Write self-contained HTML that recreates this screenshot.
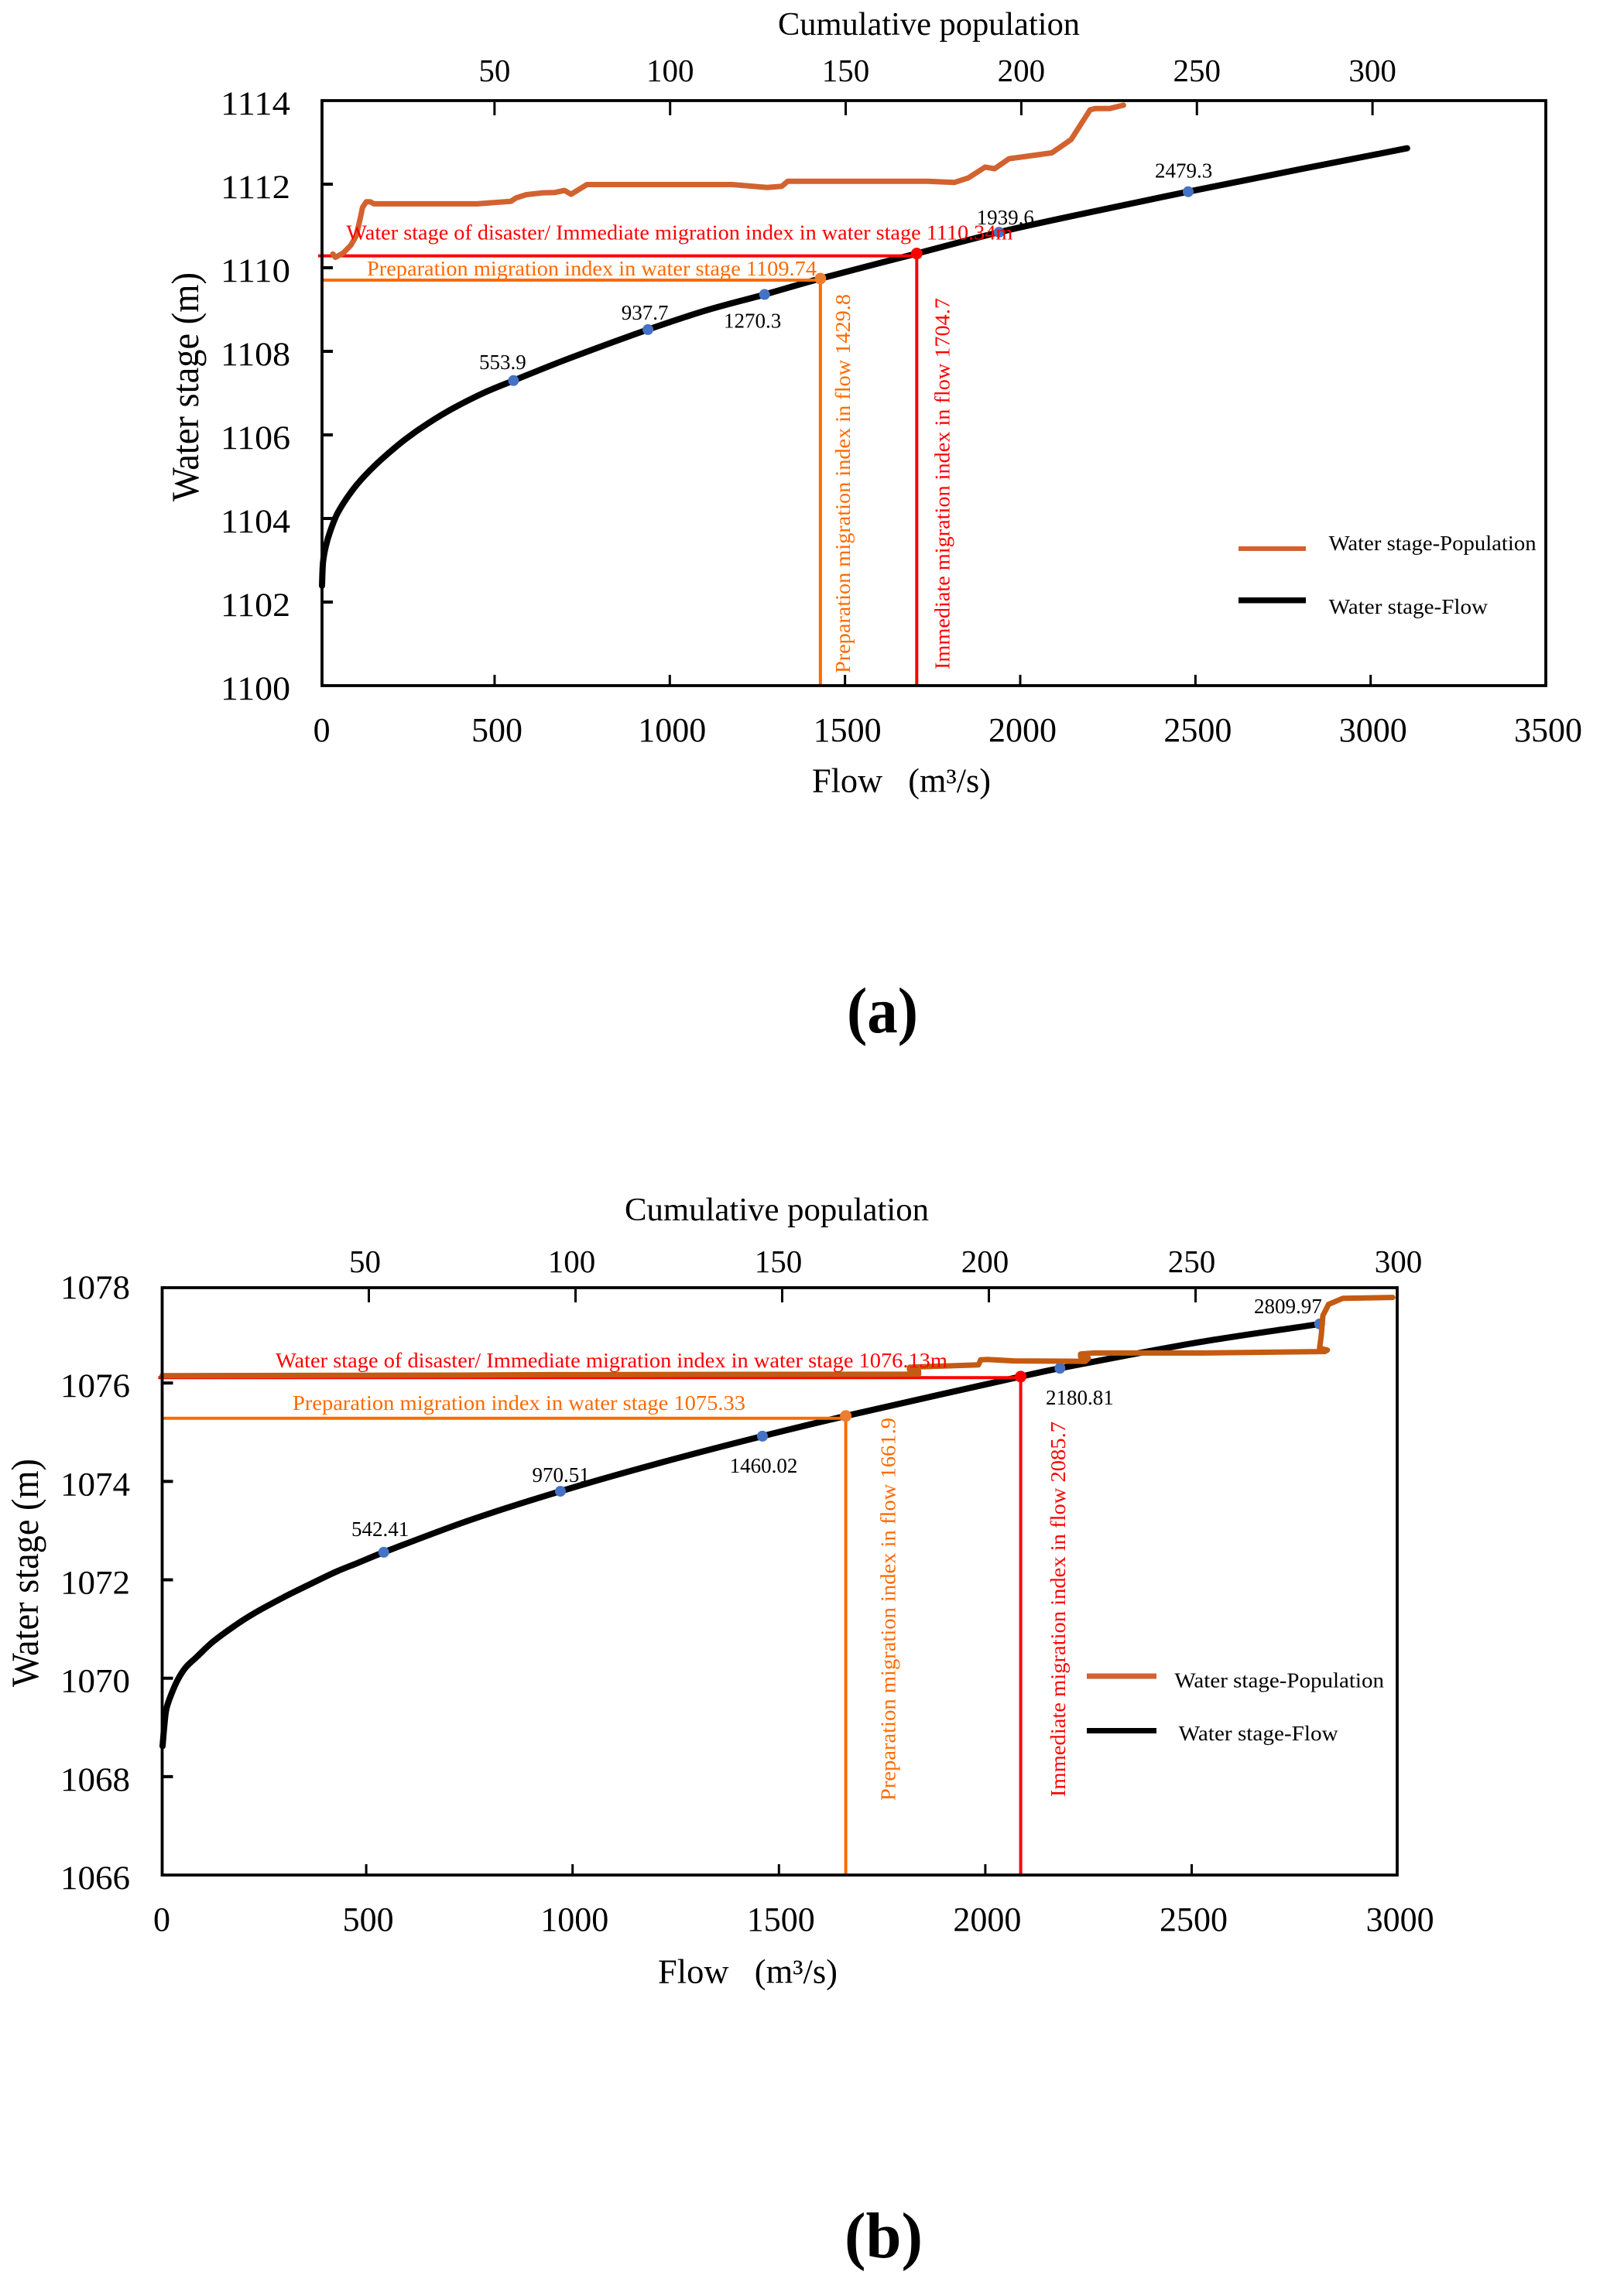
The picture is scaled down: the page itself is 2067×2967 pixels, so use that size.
<!DOCTYPE html>
<html lang="en">
<head>
<meta charset="utf-8">
<title>Water stage, flow and cumulative population</title>
<style>
html,body{margin:0;padding:0;background:#fff;}
svg{display:block;}
text{font-family:"Liberation Serif","Noto Serif CJK SC",serif;}
</style>
</head>
<body>
<svg id="figure" xmlns="http://www.w3.org/2000/svg" width="2067" height="2967" viewBox="0 0 2067 2967">
<rect x="0" y="0" width="2067" height="2967" fill="#ffffff"/>
</svg>
<script>
/* ---------- panel (a) data ---------- */
const flowTicksA = [0, 500, 1000, 1500, 2000, 2500, 3000, 3500];
const popTicksA = [50, 100, 150, 200, 250, 300];
const stageTicksA = [1100, 1102, 1104, 1106, 1108, 1110, 1112, 1114];
const flowA = [7.5, 10.4, 17.9, 31.1, 53.2, 97.4, 141.6, 185.8, 244.5, 310.8, 384.6, 472.9, 553.9, 700, 937.7, 1100, 1270.3, 1429.8, 1704.7, 1939.6, 2200, 2479.3, 2800, 3104];
const flowStageA = [1102.39, 1102.95, 1103.32, 1103.7, 1104.15, 1104.71, 1105.13, 1105.48, 1105.89, 1106.28, 1106.65, 1107.02, 1107.3, 1107.79, 1108.52, 1108.97, 1109.36, 1109.74, 1110.34, 1110.85, 1111.33, 1111.82, 1112.36, 1112.86];
const popA = [4.0, 4.7, 6.9, 9.1, 10.6, 11.7, 12.4, 13.5, 14.6, 15.7, 45.1, 54.7, 56.1, 59.1, 63.5, 67.1, 69.9, 71.8, 76.3, 117.7, 127.6, 131.8, 133.5, 173.4, 180.9, 184.9, 189.7, 192.4, 196.5, 208.7, 214.2, 219.6, 221.0, 225.1, 229.1];
const popStageA = [1110.33, 1110.25, 1110.35, 1110.54, 1110.76, 1111.16, 1111.44, 1111.58, 1111.58, 1111.53, 1111.53, 1111.59, 1111.67, 1111.75, 1111.79, 1111.80, 1111.85, 1111.76, 1111.99, 1111.99, 1111.92, 1111.95, 1112.07, 1112.07, 1112.04, 1112.15, 1112.41, 1112.37, 1112.61, 1112.75, 1113.07, 1113.78, 1113.81, 1113.81, 1113.89];
const markerFlowA = [553.9, 937.7, 1270.3, 1939.6, 2479.3];
const markerStageA = [1107.3, 1108.52, 1109.36, 1110.85, 1111.82];
const markerLabelA = ['553.9', '937.7', '1270.3', '1939.6', '2479.3'];
const prepIndexA = [1429.8, 1109.74];
const immediateIndexA = [1704.7, 1110.34];

/* ---------- panel (b) data ---------- */
const flowTicksB = [0, 500, 1000, 1500, 2000, 2500, 3000];
const popTicksB = [50, 100, 150, 200, 250, 300];
const stageTicksB = [1066, 1068, 1070, 1072, 1074, 1076, 1078];
const flowB = [6.6, 10.9, 15.9, 28.5, 44.1, 62.8, 87.8, 128.5, 178.5, 228.4, 303.5, 366.1, 428.5, 478.6, 542.41, 750, 970.51, 1200, 1460.02, 1661.9, 2085.7, 2180.81, 2511, 2809.97];
const flowStageB = [1068.62, 1069.04, 1069.38, 1069.69, 1069.98, 1070.22, 1070.42, 1070.74, 1071.05, 1071.32, 1071.66, 1071.92, 1072.17, 1072.34, 1072.56, 1073.21, 1073.8, 1074.35, 1074.92, 1075.33, 1076.13, 1076.3, 1076.82, 1077.2];
const popB = [0, 71.8, 94.5, 180.8, 183, 183, 180.8, 180.8, 183.5, 197.5, 198, 199.6, 206, 223.3, 224.1, 222.2, 222.2, 225.4, 251.8, 281.3, 281.9, 280, 280.4, 280.8, 282.2, 285.6, 297.7];
const popStageB = [1076.15, 1076.16, 1076.17, 1076.18, 1076.18, 1076.24, 1076.27, 1076.32, 1076.33, 1076.37, 1076.47, 1076.48, 1076.45, 1076.44, 1076.5, 1076.54, 1076.59, 1076.61, 1076.61, 1076.64, 1076.67, 1076.71, 1076.95, 1077.37, 1077.6, 1077.72, 1077.74];
const markerFlowB = [542.41, 970.51, 1460.02, 2180.81, 2809.97];
const markerStageB = [1072.56, 1073.8, 1074.92, 1076.3, 1077.2];
const markerLabelB = ['542.41', '970.51', '1460.02', '2180.81', '2809.97'];
const prepIndexB = [1661.9, 1075.33];
const immediateIndexB = [2085.7, 1076.13];

/* ---------- helpers ---------- */
const NS = 'http://www.w3.org/2000/svg';
const svg = document.getElementById('figure');
const BLACK = '#000000', RED = '#ff0000', ORANGE = '#ff6a00', BLUE = '#4472c4', MARK_ORANGE = '#ed7d31';

function el(tag, attrs) {
  const n = document.createElementNS(NS, tag);
  for (const k in attrs) n.setAttribute(k, attrs[k]);
  svg.appendChild(n);
  return n;
}
function txt(str, x, y, size, fill, anchor, len, rot, weight) {
  const a = {x: x, y: y, 'font-size': size, fill: fill, 'text-anchor': anchor || 'start'};
  if (len) { a.textLength = len; a.lengthAdjust = 'spacingAndGlyphs'; }
  if (rot) a.transform = 'rotate(-90 ' + x + ' ' + y + ')';
  if (weight) a['font-weight'] = weight;
  const n = el('text', a);
  n.textContent = str;
  return n;
}
function polyPath(xs, ys) {
  let d = '';
  for (let i = 0; i < xs.length; i++) d += (i ? 'L' : 'M') + xs[i].toFixed(1) + ' ' + ys[i].toFixed(1);
  return d;
}
/* chord-length parameterised spline through every data point */
function smoothPath(xs, ys) {
  const n = xs.length;
  const seg = [];
  for (let i = 0; i < n - 1; i++) seg.push(Math.hypot(xs[i + 1] - xs[i], ys[i + 1] - ys[i]) || 0.001);
  const tx = [], ty = [];
  for (let i = 0; i < n; i++) {
    const a = i ? i - 1 : 0, b = i < n - 1 ? i + 1 : n - 1;
    const len = (i ? seg[i - 1] : 0) + (i < n - 1 ? seg[i] : 0);
    tx.push((xs[b] - xs[a]) / len);
    ty.push((ys[b] - ys[a]) / len);
  }
  let d = 'M' + xs[0].toFixed(1) + ' ' + ys[0].toFixed(1);
  for (let i = 0; i < n - 1; i++) {
    const h = seg[i] / 3;
    d += 'C' + (xs[i] + tx[i] * h).toFixed(1) + ' ' + (ys[i] + ty[i] * h).toFixed(1) + ' ' + (xs[i + 1] - tx[i + 1] * h).toFixed(1) + ' ' + (ys[i + 1] - ty[i + 1] * h).toFixed(1) + ' ' + xs[i + 1].toFixed(1) + ' ' + ys[i + 1].toFixed(1);
  }
  return d;
}

/* ---------- panel (a) scales ---------- */
const xA = v => 412.6 + v * 0.4527;
const pA = v => 412 + v * 4.537;
const yA = v => 886 - (v - 1100) * 54;

/* ---------- panel (b) scales ---------- */
const xB = v => 206.5 + v * 0.5332;
const pB = v => 209.5 + v * 5.34;
const yB = v => 2423 - (v - 1066) * 63.58;

/* ---------- shared panel drawing ---------- */
function drawPanel(id, box, x, p, y, flowTicks, popTicks, stageTicks, flows, flowStages, pops, popStages, popColor, mFlow, mStage, prep, imm) {
  const flowCurve = el('path', {d: smoothPath(flows.map(x), flowStages.map(y)), fill: 'none', stroke: BLACK, 'stroke-width': 8, 'stroke-linecap': 'round', 'stroke-linejoin': 'round'});
  
  

  const immH = el('line', {x1: box.x - 5, x2: x(imm[0]), y1: y(imm[1]) + box.immShift, y2: y(imm[1]) + box.immShift, stroke: RED, 'stroke-width': 4});
  
  
  const immV = el('line', {x1: x(imm[0]), x2: x(imm[0]), y1: y(imm[1]), y2: box.b + 1, stroke: RED, 'stroke-width': 4});
  
  
  const prepH = el('line', {x1: box.x, x2: x(prep[0]), y1: y(prep[1]) + box.prepShift, y2: y(prep[1]) + box.prepShift, stroke: ORANGE, 'stroke-width': 4});
  
  
  const prepV = el('line', {x1: x(prep[0]), x2: x(prep[0]), y1: y(prep[1]), y2: box.b + 1, stroke: ORANGE, 'stroke-width': 4});
  
  

  for (let i = 0; i < mFlow.length; i++) {
    const m = el('circle', {cx: x(mFlow[i]), cy: y(mStage[i]), r: 7, fill: BLUE});
    
    
  }
  const prepDot = el('circle', {cx: x(prep[0]), cy: y(prep[1]), r: 7.5, fill: MARK_ORANGE});
  
  
  const immDot = el('circle', {cx: x(imm[0]), cy: y(imm[1]), r: 7.5, fill: RED});
  
  

  const popCurve = el('path', {d: polyPath(pops.map(p), popStages.map(y)), fill: 'none', stroke: popColor, 'stroke-width': 7, 'stroke-linecap': 'round', 'stroke-linejoin': 'round'});
  
  

  const frame = el('rect', {x: box.x, y: box.y, width: box.r - box.x, height: box.b - box.y, fill: 'none', stroke: BLACK, 'stroke-width': 3.8});
  
  

  flowTicks.forEach(v => {
    if (x(v) > box.x + 4 && x(v) < box.r - 4) {
      const t = el('line', {x1: x(v), x2: x(v), y1: box.b, y2: box.b - 14, stroke: BLACK, 'stroke-width': 3});
      
      
    }
    const l = txt(String(v), x(v) + box.flowLabelShift, box.flowLabelY, 44, BLACK, 'middle');
    
    
  });
  popTicks.forEach(v => {
    if (p(v) < box.r - 2) {
      const t = el('line', {x1: p(v), x2: p(v), y1: box.y + 2, y2: box.y + 19, stroke: BLACK, 'stroke-width': 3});
      
      
    }
    const l = txt(String(v), p(v) + box.popLabelShift, box.popLabelY, 41, BLACK, 'middle');
    
    
  });
  stageTicks.forEach(v => {
    if (y(v) > box.y + 2 && y(v) < box.b - 2) {
      const t = el('line', {x1: box.x, x2: box.x + 14, y1: y(v), y2: y(v), stroke: BLACK, 'stroke-width': 4});
      
      
    }
    const l = txt(String(v), box.stageLabelX - 90, y(v) + 18, 43, BLACK, 'start', 90);
    
    
  });
}

drawPanel('a', {x: 416, y: 130, r: 1997, b: 886, flowLabelY: 958, flowLabelShift: 3, popLabelY: 105, popLabelShift: 0, stageLabelX: 375, immShift: 3, prepShift: 2}, xA, pA, yA, flowTicksA, popTicksA, stageTicksA, flowA, flowStageA, popA, popStageA, '#d2622f', markerFlowA, markerStageA, prepIndexA, immediateIndexA);
drawPanel('b', {x: 209.5, y: 1664, r: 1805, b: 2423, flowLabelY: 2495, flowLabelShift: 2.5, popLabelY: 1644, popLabelShift: -5, stageLabelX: 168, immShift: 1.3, prepShift: 3}, xB, pB, yB, flowTicksB, popTicksB, stageTicksB, flowB, flowStageB, popB, popStageB, '#c55a11', markerFlowB, markerStageB, prepIndexB, immediateIndexB);

/* ---------- point value labels ---------- */
function valueLabel(id, text, px, py, dx, dy) {
  const t = txt(text, px + dx, py + dy, 27, BLACK, 'start');
  
  
}
valueLabel('a', markerLabelA[0], xA(markerFlowA[0]), yA(markerStageA[0]), -44.3, -15);
valueLabel('a', markerLabelA[1], xA(markerFlowA[1]), yA(markerStageA[1]), -34.3, -13);
valueLabel('a', markerLabelA[2], xA(markerFlowA[2]), yA(markerStageA[2]), -52.7, 43);
valueLabel('a', markerLabelA[3], xA(markerFlowA[3]), yA(markerStageA[3]), -29, -10);
valueLabel('a', markerLabelA[4], xA(markerFlowA[4]), yA(markerStageA[4]), -43, -18);
valueLabel('b', markerLabelB[0], xB(markerFlowB[0]), yB(markerStageB[0]), -41.7, -21);
valueLabel('b', markerLabelB[1], xB(markerFlowB[1]), yB(markerStageB[1]), -36.5, -12);
valueLabel('b', markerLabelB[2], xB(markerFlowB[2]), yB(markerStageB[2]), -42.4, 47);
valueLabel('b', markerLabelB[3], xB(markerFlowB[3]), yB(markerStageB[3]), -18.3, 47);
valueLabel('b', markerLabelB[4], xB(markerFlowB[4]), yB(markerStageB[4]), -84.8, -14);

/* ---------- threshold annotations ---------- */
let note;
note = txt('Water stage of disaster/ Immediate migration index in water stage ' + immediateIndexA[1] + 'm', 447.4, yA(immediateIndexA[1]) - 18, 27, RED, 'start', 861);


note = txt('Preparation migration index in water stage ' + prepIndexA[1], 474, yA(prepIndexA[1]) - 4, 27, ORANGE, 'start', 581);


note = txt('Preparation migration index in flow ' + prepIndexA[0], xA(prepIndexA[0]) + 38, 870, 27, ORANGE, 'start', 490, true);


note = txt('Immediate migration index in flow ' + immediateIndexA[0], xA(immediateIndexA[0]) + 42.3, 865, 27, RED, 'start', 480, true);



note = txt('Water stage of disaster/ Immediate migration index in water stage ' + immediateIndexB[1] + 'm', 356, yB(immediateIndexB[1]) - 12, 27, RED, 'start', 868);


note = txt('Preparation migration index in water stage ' + prepIndexB[1], 378, yB(prepIndexB[1]) - 8, 27, ORANGE, 'start', 585);


note = txt('Preparation migration index in flow ' + prepIndexB[0], xB(prepIndexB[0]) + 64, 2327, 27, ORANGE, 'start', 495, true);


note = txt('Immediate migration index in flow ' + immediateIndexB[0], xB(immediateIndexB[0]) + 57.5, 2322, 27, RED, 'start', 485, true);



/* ---------- titles ---------- */
let title;
title = txt('Cumulative population', 1005, 45, 42, BLACK, 'start', 390);


title = txt('Cumulative population', 807, 1577, 42, BLACK, 'start', 393);


title = txt('Flow\u00a0\u00a0\u00a0(m\u00b3/s)', 1049, 1023.5, 44, BLACK, 'start', 231);


title = txt('Flow\u00a0\u00a0\u00a0(m\u00b3/s)', 850, 2562.5, 44, BLACK, 'start', 232);


title = txt('Water stage (m)', 256, 648, 50, BLACK, 'start', 296, true);


title = txt('Water stage (m)', 49, 2180, 50, BLACK, 'start', 295, true);


title = txt('(a)', 1094, 1334, 84, BLACK, 'start', 92, false, 'bold');


title = txt('(b)', 1091, 2917, 84, BLACK, 'start', 101, false, 'bold');



/* ---------- legends ---------- */
let lg;
lg = el('rect', {x: 1600, y: 706, width: 87, height: 6, fill: '#d2622f'});


lg = el('rect', {x: 1600, y: 772, width: 87, height: 7.5, fill: BLACK});


lg = txt('Water stage-Population', 1716.6, 711, 27, BLACK, 'start', 268);


lg = txt('Water stage-Flow', 1716.6, 793, 27, BLACK, 'start', 205.5);


lg = el('rect', {x: 1404, y: 2162.5, width: 90, height: 7, fill: '#d2622f'});


lg = el('rect', {x: 1404, y: 2233, width: 90, height: 7, fill: BLACK});


lg = txt('Water stage-Population', 1517.4, 2180.6, 27, BLACK, 'start', 270.6);


lg = txt('Water stage-Flow', 1522.7, 2248.8, 27, BLACK, 'start', 206);


</script>
</body>
</html>
